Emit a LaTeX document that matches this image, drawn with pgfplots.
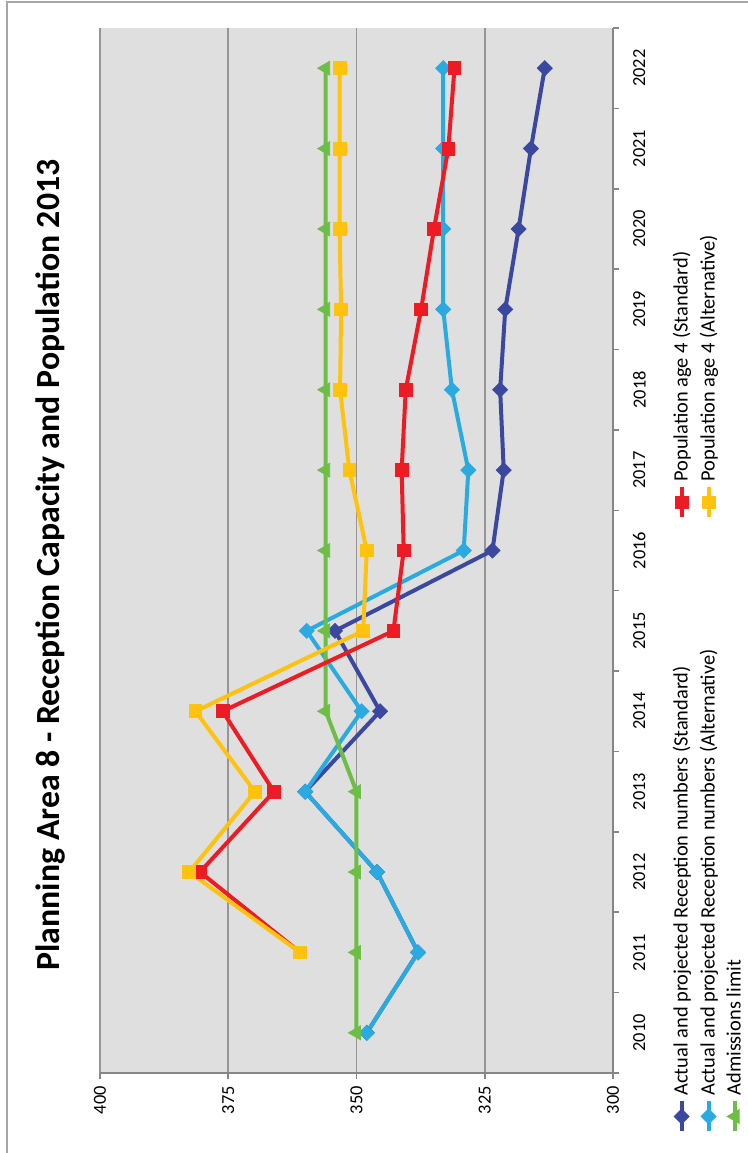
\documentclass[border=0pt]{standalone}
\usepackage{pgfplots}
\pgfplotsset{compat=1.18}
\usepackage{fontspec}
\setmainfont{Carlito}
\usepackage{graphicx}
\definecolor{dblue}{RGB}{59,72,160}
\definecolor{lblue}{RGB}{41,171,226}
\definecolor{cred}{RGB}{237,28,36}
\definecolor{cyel}{RGB}{255,194,14}
\definecolor{cgreen}{RGB}{109,190,69}
\definecolor{plotbg}{RGB}{223,223,223}
\definecolor{gridc}{RGB}{150,150,150}
\definecolor{axisc}{RGB}{134,134,134}
\begin{document}
\rotatebox{90}{%
\begin{tikzpicture}
\path[use as bounding box] (0,0) rectangle (576.5pt,374pt);
\draw[gray!70, line width=0.6pt] (-1pt,370.5pt) -- (575.5pt,370.5pt) -- (575.5pt,-1pt);
\node[font=\fontsize{16.9}{20}\selectfont\bfseries] at (294pt,349pt) {Planning Area 8 - Reception Capacity and Population 2013};
\begin{axis}[
  at={(40pt,67.5pt)}, anchor=south west,
  scale only axis, width=522.5pt, height=256.5pt,
  xmin=2009.5, xmax=2022.5, ymin=300, ymax=400,
  axis x line*=bottom, axis y line*=left,
  axis line style={axisc, line width=1pt},
  axis background/.style={fill=plotbg},
  tick align=outside,
  major tick length=3pt,
  tick style={axisc, line width=0.8pt},
  xtick={2009.5,2010.5,...,2022.5},
  xticklabels={},
  extra x ticks={2010,2011,2012,2013,2014,2015,2016,2017,2018,2019,2020,2021,2022},
  extra x tick labels={2010,2011,2012,2013,2014,2015,2016,2017,2018,2019,2020,2021,2022},
  extra x tick style={major tick length=0pt, grid=none},
  ytick={300,325,350,375,400},
  ymajorgrids,
  grid style={gridc, line width=0.8pt},
  /pgf/number format/assume math mode=true,
  /pgf/number format/1000 sep={},
  tick label style={font=\fontsize{9.2}{11}\selectfont},
  xticklabel style={yshift=-6.5pt},
  legend columns=3, transpose legend,
  legend cell align=left,
  legend style={at={(axis description cs:-0.064,-0.1)}, anchor=north west, draw=none, fill=none,
    font=\fontsize{10.2}{12}\selectfont, row sep=0.5pt,
    /tikz/every even column/.append style={column sep=0pt}},
  legend image code/.code={\draw[mark repeat=2,mark phase=2] plot coordinates {(0pt,0pt)(7.5pt,0pt)(15pt,0pt)};},
  every axis plot/.append style={line width=2pt},
]
\addplot[dblue, mark=square*, mark size=2.65pt, mark options={rotate=45, solid, line width=0.4pt}] coordinates {
(2010,348)(2011,338)(2012,346)(2013,360)(2014,345.4)(2015,354.2)(2016,323.5)(2017,321.3)(2018,322)(2019,321)(2020,318.4)(2021,316)(2022,313.3)};
\addlegendentry{\makebox[286pt][l]{Actual and projected Reception numbers (Standard)}}
\addplot[lblue, mark=square*, mark size=2.65pt, mark options={rotate=45, solid, line width=0.4pt}] coordinates {
(2010,348)(2011,338)(2012,346)(2013,360)(2014,349)(2015,359.7)(2016,329.1)(2017,328.2)(2018,331.4)(2019,333.1)(2020,333.1)(2021,333.1)(2022,333.1)};
\addlegendentry{\makebox[286pt][l]{Actual and projected Reception numbers (Alternative)}}
\addplot[cgreen, mark=triangle*, mark size=4pt, mark options={solid, line width=0.4pt}] coordinates {
(2010,350)(2011,350)(2012,350)(2013,350)(2014,356)(2015,356)(2016,356)(2017,356)(2018,356)(2019,356)(2020,356)(2021,356)(2022,356)};
\addlegendentry{\makebox[286pt][l]{Admissions limit}}
\addplot[cred, mark=square*, mark size=3.2pt, mark options={solid, line width=0.4pt}] coordinates {
(2011,361)(2012,380.5)(2013,366.1)(2014,376.1)(2015,342.8)(2016,340.8)(2017,341.2)(2018,340.4)(2019,337.4)(2020,334.9)(2021,332.1)(2022,330.9)};
\addlegendentry{Population age 4 (Standard)}
\addplot[cyel, mark=square*, mark size=3.2pt, mark options={solid, line width=0.4pt}] coordinates {
(2011,361)(2012,382.6)(2013,369.8)(2014,381.4)(2015,348.7)(2016,348)(2017,351.4)(2018,353.2)(2019,353)(2020,353.3)(2021,353.3)(2022,353.3)};
\addlegendentry{Population age 4 (Alternative)}
\end{axis}
\end{tikzpicture}}
\end{document}
